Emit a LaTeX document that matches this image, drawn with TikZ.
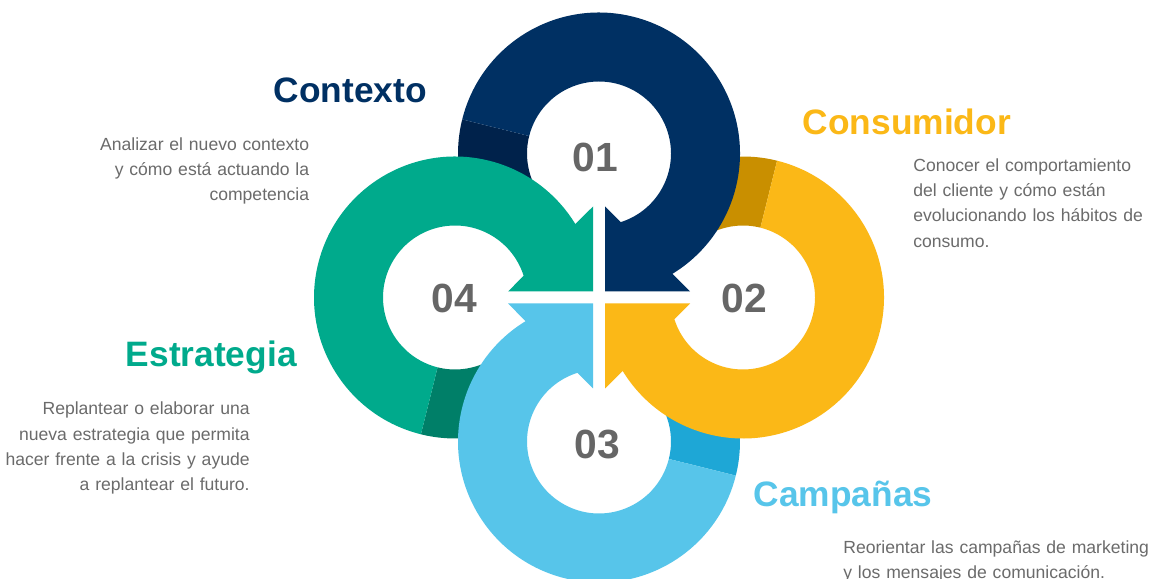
\documentclass[tikz,border=0pt]{standalone}
\usepackage{fontspec}
\setmainfont{Liberation Sans}

\definecolor{navy}{HTML}{003063}
\definecolor{navydark}{HTML}{00224B}
\definecolor{amber}{HTML}{FBB817}
\definecolor{amberdark}{HTML}{C98F00}
\definecolor{sky}{HTML}{57C5EA}
\definecolor{skydark}{HTML}{1EA7D6}
\definecolor{jade}{HTML}{00AA8C}
\definecolor{jadedark}{HTML}{007F68}
\definecolor{textgray}{HTML}{6B6B6B}
\definecolor{numgray}{HTML}{666666}

\newlength\Rout
\setlength\Rout{2.82cm}
\newlength\Rin
\setlength\Rin{1.44cm}

\begin{document}
\begin{tikzpicture}[x=0.02cm, y=0.02cm, line join=round,
    title/.style={font=\fontsize{20.1}{24}\selectfont\bfseries, inner sep=0pt},
    blurb/.style={font=\fontsize{10}{14.3}\selectfont, text=textgray, inner sep=0pt, text width=7cm},
    num/.style={font=\fontsize{23.2}{28}\selectfont\bfseries, text=numgray, inner sep=0pt}]
  \useasboundingbox[fill=white] (0,0) rectangle (1149,578);

  % tails first, they slip under the next ring
  \foreach \ang/\col in {0/navydark, -90/amberdark, 180/skydark, 90/jadedark}
    \fill[\col, shift={(599,280.5)}, rotate=\ang, shift={(0,144)}]
      (166:\Rout) arc[start angle=166, end angle=205, radius=\Rout]
      -- (205:\Rin) arc[start angle=205, end angle=166, radius=\Rin] -- cycle;

  % ring with its arrow head at the cross
  \foreach \ang/\col in {0/navy, -90/amber, 180/sky, 90/jade}
    \fill[\col, shift={(599,280.5)}, rotate=\ang, shift={(0,144)}]
      (166:\Rout) arc[start angle=166, end angle=-58.63, radius=\Rout]
      -- (91,-138) -- (6,-138) -- (6,-53)
      -- (-72.49:\Rin) arc[start angle=-72.49, end angle=166, radius=\Rin] -- cycle;

  \node[num] (n01) at (595,421) {01};
  \node[num] (n02) at (744.5,280) {02};
  \node[num] (n03) at (597.5,134) {03};
  \node[num] (n04) at (454.5,280) {04};

  \node[title, text=navy, anchor=base west] (contexto) at (273.5,475) {Contexto};
  \node[blurb, align=right, anchor=base east] (contexto-txt) at (309.5,427.3)
    {Analizar el nuevo contexto\\ y cómo está actuando la\\ competencia};

  \node[title, text=amber, anchor=base west] (consumidor) at (802.5,443) {Consumidor};
  \node[blurb, align=left, anchor=base west] (consumidor-txt) at (913,406.3)
    {Conocer el comportamiento\\ del cliente y cómo están\\ evolucionando los hábitos de\\ consumo.};

  \node[title, text=jade, anchor=base east] (estrategia) at (297,211.3) {Estrategia};
  \node[blurb, align=right, anchor=base east] (estrategia-txt) at (250,163)
    {Replantear o elaborar una\\ nueva estrategia que permita\\ hacer frente a la crisis y ayude\\ a replantear el futuro.};

  \node[title, text=sky, anchor=base west] (campanas) at (753.5,71.3) {Campañas};
  \node[blurb, align=left, anchor=base west] (campanas-txt) at (843,24.7)
    {Reorientar las campañas de marketing\\ y los mensajes de comunicación.};
\end{tikzpicture}
\end{document}
